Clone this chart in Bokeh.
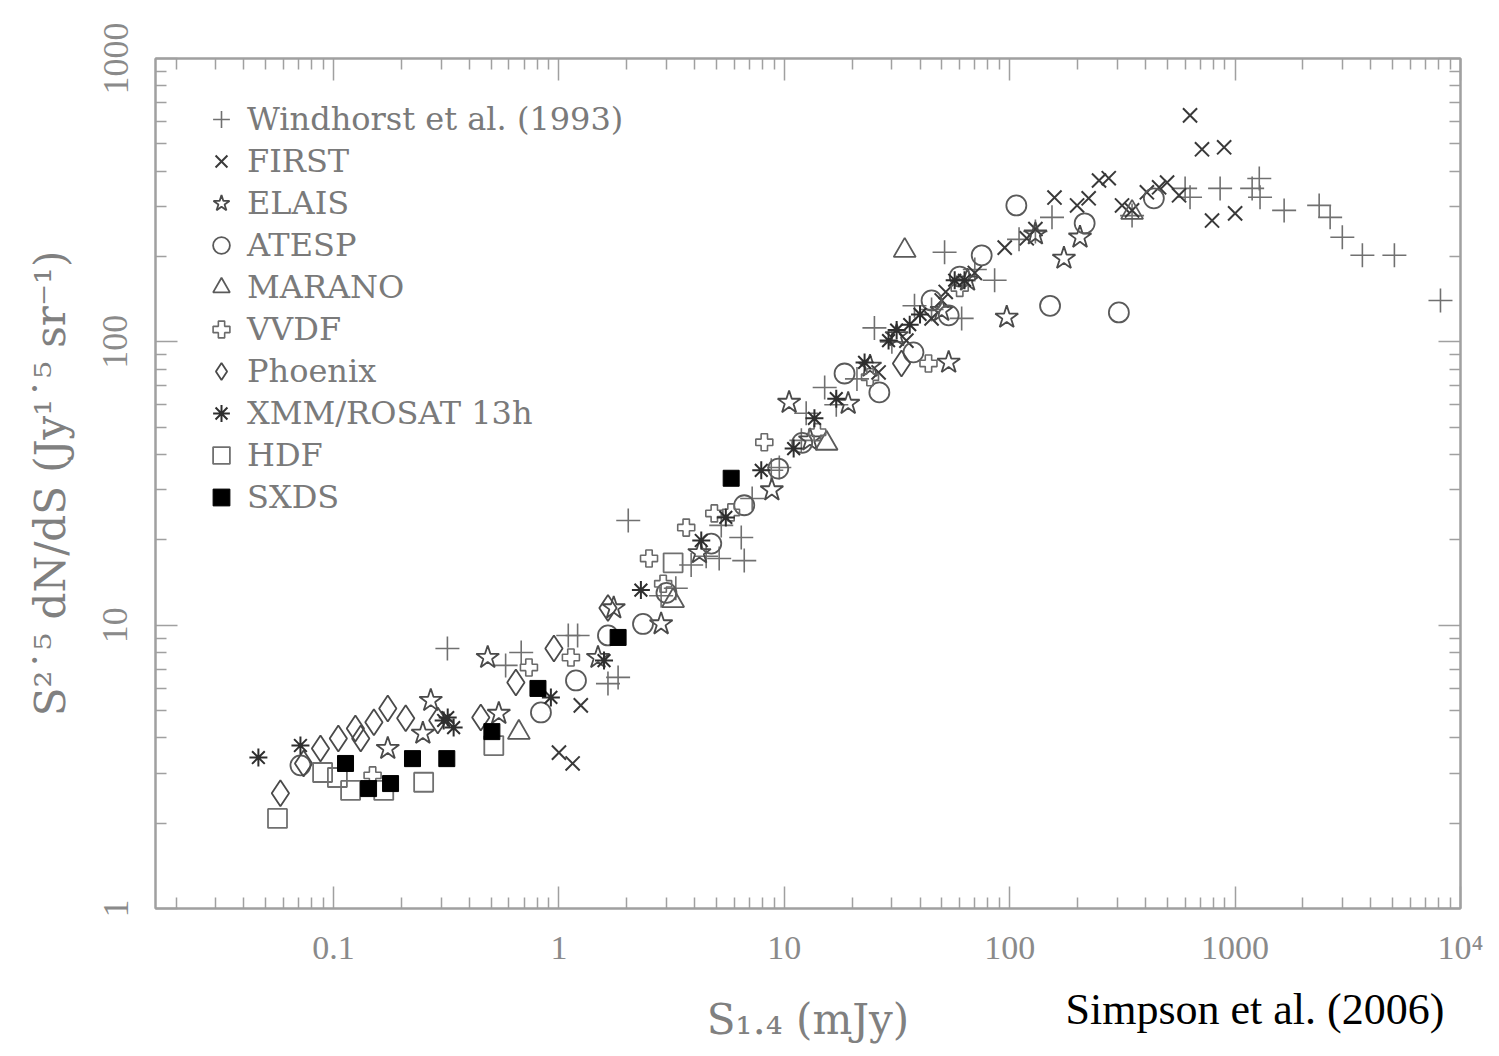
import math
from bokeh.plotting import figure
from bokeh.models import Range1d, LogAxis, FixedTicker, CustomJSTickFormatter, Label
from bokeh.embed import file_html
from bokeh.resources import INLINE

# ---------------- data ----------------
windhorst_x = [0.32, 0.58, 0.68, 1.10, 1.21, 1.65, 1.83, 2.03, 5.14, 6.64, 6.44, 2.84, 3.86, 5.25,
               8.75, 11.9, 12.5, 15.1, 25.1, 37.8, 51.4, 61.2, 85.7, 154, 349, 600, 631, 858, 1190,
               1280, 1290, 1650, 2360, 2640, 2990, 3670, 5090, 8150,
               3.3, 4.5, 7.2, 9.5, 17, 21, 30, 45, 70, 110, 130]
windhorst_y = [8.27, 7.21, 8.01, 9.2, 9.2, 6.22, 6.54, 23.4, 17.2, 16.9, 20.4, 12.7, 16.3, 22.5,
               35.2, 44.9, 56.0, 69, 112, 134, 207, 121, 165, 275, 279, 348, 324, 348, 348,
               377, 324, 291, 303, 275, 234, 202, 202, 140,
               13.5, 17.5, 28, 36, 60, 74, 100, 130, 180, 230, 245]

first_x = [1.0, 1.15, 1.25, 26.2, 34.8, 45, 49.9, 52, 119, 158, 199, 224, 249, 275, 315, 349,
           406, 460, 499, 564, 631, 713, 894, 790, 1000, 70, 95, 130]
first_y = [3.55, 3.25, 5.21, 78, 101, 121, 140, 150, 232, 323, 303, 321, 371, 378, 303, 291,
           337, 351, 365, 329, 630, 478, 486, 268, 284, 175, 215, 250]

elais_x = [0.174, 0.249, 0.27, 0.483, 0.541, 1.49, 1.75, 2.84, 8.8, 10.5, 19.2, 31.5, 49.9,
           53.6, 97, 174, 205, 4.2, 13, 24, 65, 130]
elais_y = [3.67, 4.15, 5.42, 7.69, 4.88, 7.69, 11.5, 10.1, 30.0, 61.1, 60.6, 105, 129,
           84.6, 122, 197, 234, 18, 45, 82, 165, 240]

atesp_x = [0.0713, 0.832, 1.19, 1.65, 2.36, 4.74, 6.64, 9.4, 18.5, 26.4, 37.4, 53.6, 75.1,
           107, 215, 436, 151, 305, 3.0, 12, 45, 60]
atesp_y = [3.2, 4.92, 6.38, 9.2, 10.1, 19.4, 26.5, 35.7, 77.3, 66.3, 91.8, 124, 202,
           303, 262, 321, 134, 127, 13, 44, 140, 170]

marano_x = [0.664, 3.21, 15.4, 34.2, 349]
marano_y = [4.18, 12.2, 43.8, 210, 286]

vvdf_x = [0.149, 0.736, 1.13, 2.51, 3.67, 4.89, 8.15, 43.6, 2.9, 5.8, 14, 24, 60]
vvdf_y = [2.95, 7.09, 7.69, 17.2, 22.1, 24.8, 44.2, 83.9, 14, 25, 48, 75, 155]

phoenix_x = [0.0581, 0.0736, 0.0875, 0.105, 0.125, 0.132, 0.151, 0.174, 0.209, 0.29, 0.45,
             0.644, 0.95, 1.65, 33.1]
phoenix_y = [2.55, 3.25, 3.67, 3.98, 4.32, 3.98, 4.54, 5.08, 4.69, 4.61, 4.72,
             6.28, 8.27, 11.5, 83.9]

xmm_x = [0.0464, 0.0713, 0.308, 0.341, 0.321, 0.921, 1.585, 2.31, 4.28, 7.9, 13.6, 22.7,
         29.0, 31.5, 57, 63, 5.5, 11, 17, 36, 40]
xmm_y = [3.41, 3.76, 4.61, 4.35, 4.72, 5.56, 7.5, 13.3, 19.9, 35.2, 53.7, 84.6,
         101, 110, 165, 165, 24, 42, 63, 115, 125]

hdf_x = [0.0564, 0.0894, 0.104, 0.119, 0.167, 0.251, 0.514, 3.21]
hdf_y = [2.08, 3.02, 2.90, 2.61, 2.61, 2.79, 3.76, 16.6]

sxds_x = [0.113, 0.143, 0.179, 0.224, 0.318, 0.504, 0.807, 1.83, 5.81]
sxds_y = [3.25, 2.65, 2.76, 3.38, 3.38, 4.21, 5.98, 9.05, 33.0]

x_major = [0.1, 1, 10, 100, 1000, 10000]
y_major = [1, 10, 100, 1000]

x_title = "S\u2081.\u2084 (mJy)"
y_title = "S\u00b2\u02d9\u2075 dN/dS (Jy\u00b9\u02d9\u2075 sr\u207b\u00b9)"
credit = "Simpson et al. (2006)"

# ---------------- figure ----------------
FL, FR, FT, FB = 155, 39, 58, 148
W, H = 1499, 1056
p = figure(width=W, height=H, x_axis_type="log", y_axis_type="log",
           x_range=Range1d(10 ** -1.79, 1e4), y_range=Range1d(1, 1000),
           output_backend="svg", toolbar_location=None,
           min_border_left=FL, min_border_right=FR, min_border_top=FT, min_border_bottom=FB)
p.grid.visible = False
p.outline_line_color = "#a0a0a0"
p.outline_line_width = 2
p.background_fill_color = "white"
p.border_fill_color = "white"

x_minor = [m * 10.0 ** e for e in range(-2, 4) for m in range(2, 10) if m * 10.0 ** e > 10 ** -1.79]
y_minor = [m * 10.0 ** e for e in range(0, 3) for m in range(2, 10)]

GRAY = "#a0a0a0"


def style_axis(ax, major, minor, labels, size=32):
    ax.ticker = FixedTicker(ticks=major, minor_ticks=minor)
    ax.axis_line_color = GRAY
    ax.axis_line_width = 2
    ax.major_tick_in = 22
    ax.major_tick_out = 0
    ax.minor_tick_in = 11
    ax.minor_tick_out = 0
    ax.major_tick_line_color = GRAY
    ax.minor_tick_line_color = GRAY
    ax.major_tick_line_width = 1.5
    ax.minor_tick_line_width = 1.5
    if labels:
        ax.formatter = CustomJSTickFormatter(
            code="return tick >= 9999 ? '10\u2074' : String(tick);")
        ax.major_label_text_font = "Liberation Serif"
        ax.major_label_text_font_size = f"{size}px"
        ax.major_label_text_color = "#8a8a8a"
        ax.axis_label_text_font = "DejaVu Serif"
        ax.axis_label_text_font_style = "normal"
        ax.axis_label_text_color = "#808080"
    else:
        ax.formatter = CustomJSTickFormatter(code="return '';")
        ax.major_label_standoff = 0


xa = p.xaxis[0]
style_axis(xa, x_major, x_minor, True, 34)
xa.major_label_standoff = 20
xa.axis_label = x_title
xa.axis_label_text_font_size = "42px"
xa.axis_label_standoff = 26

ya = p.yaxis[0]
style_axis(ya, y_major, y_minor, True, 36)
ya.major_label_orientation = "vertical"
ya.major_label_standoff = 28
ya.axis_label = y_title
ya.axis_label_text_font_size = "42px"
ya.axis_label_standoff = 26

top = LogAxis()
style_axis(top, x_major, x_minor, False)
p.add_layout(top, "above")
right = LogAxis()
style_axis(right, y_major, y_minor, False)
p.add_layout(right, "right")

# ---------------- series ----------------
p.scatter(windhorst_x, windhorst_y, marker="cross", size=24, line_color="#707070", line_width=1.6,
          legend_label="Windhorst et al. (1993)")
p.scatter(first_x, first_y, marker="x", size=20, line_color="#3a3a3a", line_width=2,
          legend_label="FIRST")
p.scatter(elais_x, elais_y, marker="star", size=24, line_color="#4a4a4a", fill_color=None,
          line_width=1.8, legend_label="ELAIS")
p.scatter(atesp_x, atesp_y, marker="circle", size=20, line_color="#5a5a5a", fill_color=None,
          line_width=1.8, legend_label="ATESP")
p.scatter(marano_x, marano_y, marker="triangle", size=22, line_color="#5a5a5a", fill_color=None,
          line_width=1.8, legend_label="MARANO")
p.scatter(vvdf_x, vvdf_y, marker="plus", size=17, line_color="#6a6a6a", fill_color=None,
          line_width=1.6, legend_label="VVDF")
p.scatter(phoenix_x, phoenix_y, marker="diamond", size=26, line_color="#4a4a4a", fill_color=None,
          line_width=1.8, legend_label="Phoenix")
p.scatter(xmm_x, xmm_y, marker="asterisk", size=18, line_color="#2e2e2e", line_width=2,
          legend_label="XMM/ROSAT 13h")
p.scatter(hdf_x, hdf_y, marker="square", size=19, line_color="#707070", fill_color=None,
          line_width=1.8, legend_label="HDF")
p.scatter(sxds_x, sxds_y, marker="square", size=16, line_color="black", fill_color="black",
          line_width=1, legend_label="SXDS")

lg = p.legend[0]
lg.location = "top_left"
lg.margin = 40
lg.padding = 0
lg.border_line_color = None
lg.background_fill_alpha = 0
lg.glyph_width = 52
lg.glyph_height = 42
lg.label_height = 42
lg.label_standoff = 0
lg.spacing = 0
lg.label_text_font = "DejaVu Serif"
lg.label_text_font_size = "32px"
lg.label_text_color = "#7a7a7a"

# credit text (canvas coordinates); hosted by the top panel so it does not push the frame
p.add_layout(Label(x=1065, y=1009, x_units="canvas", y_units="canvas", text=credit,
                   text_align="left", text_baseline="alphabetic",
                   text_font="Liberation Serif", text_font_size="44px", text_color="black"),
             "above")

open("out.html", "w").write(file_html(p, INLINE))
